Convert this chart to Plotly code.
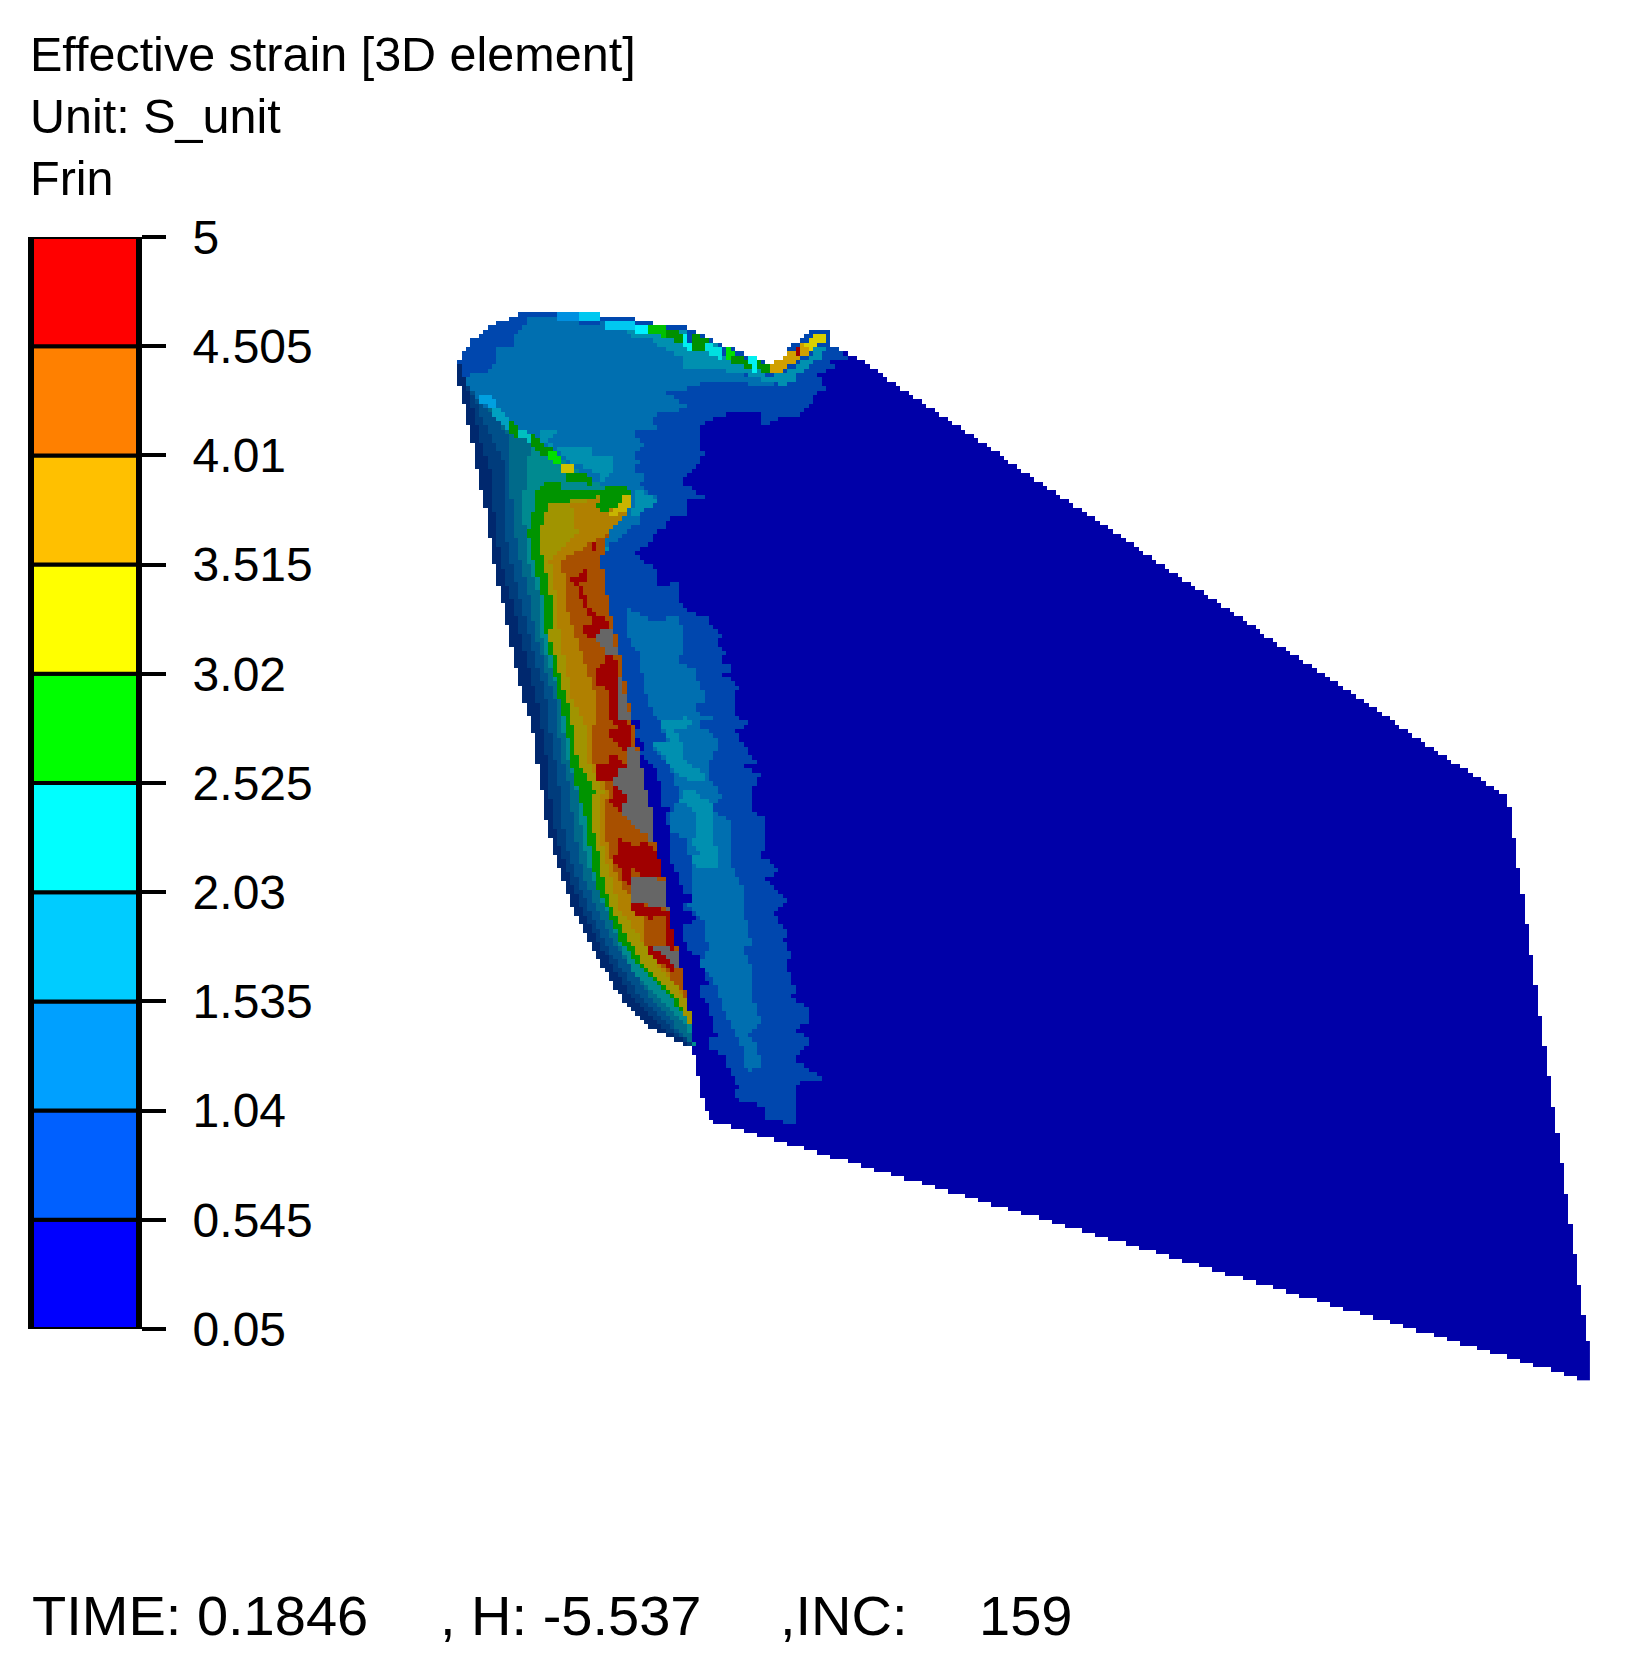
import numpy as np
import plotly.graph_objects as go

level_edges = [0.05, 0.545, 1.04, 1.535, 2.03, 2.525, 3.02, 3.515, 4.01, 4.505, 5]
level_labels = ['0.05', '0.545', '1.04', '1.535', '2.03', '2.525', '3.02', '3.515', '4.01', '4.505', '5']
level_colors = ['#0000FF', '#0060FF', '#00A0FF', '#00CCFF', '#00FFFF',
                '#00FF00', '#FFFF00', '#FFC000', '#FF8000', '#FF0000']

# mesh outline and contour regions (axes run in image pixels)
plate = [(814, 329), (829, 329), (831, 345), (843, 350), (857, 358), (1450, 760), (1494, 787), (1507, 797),
         (1511, 815), (1590, 1358), (1590, 1380), (1586, 1380), (712, 1121), (704, 1103), (699, 1082),
         (695, 1060), (690, 1040), (640, 800), (598, 548), (640, 500), (700, 400), (773, 375), (787, 350)]

band_1 = [(458, 363), (463, 353), (471, 341), (488, 327), (511, 318), (519, 314), (598, 314), (633, 318), (651, 323),
          (686, 327), (705, 336), (723, 345), (757, 358), (769, 363), (773, 375), (787, 350), (814, 329), (829, 329),
          (831, 345), (843, 350), (848, 358), (830, 363), (835, 368), (818, 375), (827, 390), (817, 393), (813, 402),
          (805, 407), (800, 415), (778, 419), (762, 428), (761, 412), (740, 411), (722, 415), (703, 425), (699, 437),
          (703, 453), (699, 463), (690, 473), (682, 482), (703, 497), (686, 500), (686, 515), (664, 520), (664, 528),
          (655, 533), (650, 542), (633, 555), (647, 563), (655, 568), (657, 585), (677, 583), (677, 603), (703, 617),
          (712, 620), (708, 625), (722, 633), (717, 647), (725, 650), (722, 665), (738, 667), (722, 673), (738, 687),
          (733, 710), (743, 720), (747, 723), (735, 732), (748, 750), (757, 763), (740, 767), (760, 772), (756, 783),
          (752, 793), (752, 810), (765, 818), (765, 845), (762, 857), (782, 872), (762, 877), (778, 890), (787, 903),
          (773, 913), (787, 930), (783, 940), (792, 953), (787, 967), (795, 987), (792, 997), (808, 1007), (808, 1022),
          (797, 1030), (808, 1040), (808, 1045), (792, 1058), (822, 1078), (800, 1082), (795, 1093), (795, 1122),
          (782, 1125), (782, 1122), (765, 1117), (765, 1108), (752, 1103), (734, 1098), (739, 1087), (734, 1077),
          (725, 1065), (725, 1055), (708, 1048), (708, 1038), (717, 1037), (712, 1017), (708, 1005), (699, 997),
          (699, 990), (708, 982), (703, 970), (699, 957), (687, 948), (682, 928), (695, 918), (687, 910), (677, 907),
          (695, 900), (682, 890), (677, 873), (668, 857), (668, 823), (664, 815), (673, 810), (660, 807), (660, 783),
          (655, 767), (638, 750), (647, 747), (633, 732), (642, 725), (628, 717), (628, 700), (600, 600), (590, 540),
          (470, 400), (458, 370)]

band_2_top = [(472, 372), (488, 372), (497, 362), (497, 345), (515, 345), (515, 335), (523, 330), (528, 318), (555, 318),
              (560, 323), (577, 323), (580, 327), (603, 323), (625, 327), (650, 336), (682, 358), (682, 367), (722, 370),
              (762, 380), (783, 388), (713, 380), (690, 388), (663, 393), (677, 398), (677, 406), (690, 403), (677, 411),
              (653, 415), (652, 423), (660, 427), (629, 433), (646, 445), (633, 455), (638, 463), (635, 470), (650, 477),
              (637, 483), (660, 500), (643, 507), (637, 513), (642, 520), (625, 533), (610, 545), (598, 548), (478, 400),
              (465, 385)]

band_2_low = [(629, 608), (638, 612), (652, 620), (677, 617), (682, 630), (682, 653), (677, 663), (693, 668), (703, 690),
              (708, 700), (693, 703), (700, 715), (712, 718), (698, 723), (717, 740), (717, 752), (712, 753), (707, 778),
              (725, 798), (713, 803), (713, 810), (730, 820), (730, 863), (743, 890), (743, 903), (747, 927), (752, 945),
              (743, 947), (752, 965), (752, 997), (757, 1010), (761, 1023), (747, 1033), (757, 1047), (761, 1067),
              (748, 1072), (743, 1063), (742, 1047), (730, 1025), (722, 1005), (712, 977), (700, 963), (708, 948),
              (703, 920), (687, 907), (693, 897), (692, 870), (690, 857), (687, 837), (668, 833), (668, 823), (673, 810),
              (680, 797), (670, 767), (650, 747), (665, 740), (660, 722), (650, 708), (647, 700), (638, 653), (625, 633),
              (625, 617)]

band_3 = [
    [(653, 332), (685, 327), (687, 345), (717, 343), (727, 358), (760, 370), (768, 376), (778, 375), (793, 367), (810, 357),
     (817, 345), (830, 345), (823, 355), (810, 367), (795, 375), (795, 380), (783, 388), (773, 380), (762, 380), (752, 376),
     (722, 370), (682, 367), (682, 358), (650, 340), (625, 335), (625, 327)],
    [(540, 428), (555, 428), (555, 433), (550, 440), (555, 447), (590, 447), (590, 455), (615, 455), (612, 473), (603, 482),
     (597, 473), (573, 463), (557, 450), (537, 440)],
    [(600, 545), (612, 545), (610, 550), (600, 550)],
    [(620, 530), (633, 517), (640, 513), (658, 500), (638, 490), (635, 500), (630, 518)],
    [(660, 722), (685, 718), (693, 725), (670, 732), (680, 735), (682, 752), (687, 762), (710, 778), (693, 782), (680, 775),
     (670, 767), (663, 753), (652, 745), (668, 740)],
    [(682, 793), (693, 788), (712, 805), (712, 832), (717, 850), (717, 870), (693, 865), (690, 857), (702, 855), (690, 842),
     (697, 832), (695, 813), (680, 800)],
]

# curved side of the cup: one x per row for each contour
wedge_rows = [365, 380, 400, 420, 440, 467, 488, 492, 505, 533, 560, 600, 640, 700, 730, 760, 790, 820, 850, 880, 910, 940, 970, 1000, 1025, 1047]
wedge_outer = [458, 458, 463, 467, 472, 476, 481, 482, 485, 489, 493, 502, 510, 523, 533, 537, 542, 546, 554, 563, 574, 588, 605, 623, 647, 688]
wedge_fold = [460, 465, 478, 502, 530, 573, 605, 620, 633, 608, 601, 608, 617, 628, 634, 640, 646, 652, 656, 664, 668, 675, 681, 688, 691, 695]
side_1 = [460, 465, 470, 475, 480, 490, 492, 492, 493, 497, 500, 512, 522, 537, 542, 547, 550, 552, 560, 570, 583, 597, 615, 633, 658, 695]
side_2 = [460, 465, 476, 483, 492, 506, 505, 504, 503, 506, 510, 520, 530, 547, 550, 555, 560, 562, 568, 577, 590, 603, 622, 643, 668, 695]
side_3 = [460, 465, 478, 498, 510, 510, 510, 511, 512, 515, 520, 530, 537, 555, 558, 563, 570, 573, 578, 585, 598, 612, 632, 652, 675, 695]
side_4 = [460, 465, 478, 502, 530, 528, 525, 524, 523, 525, 528, 540, 542, 560, 563, 568, 577, 580, 585, 593, 607, 618, 633, 662, 687, 695]
side_g = [460, 465, 478, 502, 530, 573, 605, 536, 535, 528, 533, 543, 547, 560, 567, 570, 578, 586, 590, 595, 608, 620, 642, 672, 691, 695]
side_y = [460, 465, 478, 502, 530, 573, 605, 620, 550, 538, 543, 552, 550, 567, 573, 577, 595, 590, 598, 603, 613, 628, 647, 677, 691, 695]
side_o = [460, 465, 478, 502, 530, 573, 605, 620, 572, 577, 550, 557, 560, 573, 587, 587, 603, 600, 603, 612, 620, 642, 662, 688, 691, 695]
side_b = [460, 465, 478, 502, 530, 573, 605, 620, 633, 608, 563, 565, 577, 597, 593, 593, 608, 605, 608, 618, 643, 643, 665, 688, 691, 695]

side_colors = ['#003C7C', '#00508A', '#006A8A', '#008A90', '#009400', '#A09400', '#B08000', '#A85000']
side_edges = [side_1, side_2, side_3, side_4, side_g, side_y, side_o, side_b]

red_patches = [
    [(590, 543), (598, 543), (598, 560), (594, 560), (594, 550), (590, 548)],
    [(582, 568), (589, 573), (589, 582), (580, 583), (585, 595), (588, 605), (597, 615), (610, 622), (612, 630), (597, 640),
     (585, 635), (585, 627), (593, 620), (582, 602), (576, 582), (572, 582), (572, 577), (580, 577)],
    [(603, 657), (615, 657), (620, 678), (625, 695), (620, 697), (620, 718), (607, 718), (607, 690), (594, 682), (594, 670), (603, 665)],
    [(607, 700), (620, 700), (620, 718), (625, 718), (633, 728), (633, 748), (623, 752), (612, 737), (607, 733), (617, 727), (607, 717)],
    [(607, 753), (623, 760), (628, 768), (620, 770), (612, 780), (598, 783), (598, 765), (607, 763)],
    [(612, 787), (623, 788), (628, 797), (625, 815), (620, 813), (607, 800), (617, 795)],
    [(620, 837), (633, 847), (647, 842), (655, 850), (660, 860), (660, 875), (647, 880), (633, 870), (633, 890), (625, 883), (620, 867), (612, 858), (620, 855)],
    [(633, 903), (660, 907), (668, 912), (673, 933), (673, 950), (664, 950), (664, 917), (647, 918), (633, 912)],
    [(647, 947), (655, 947), (673, 965), (673, 972), (660, 963), (647, 953)],
]
grey_patches = [
    [(603, 630), (612, 630), (616, 647), (616, 657), (603, 655), (603, 647), (598, 643), (598, 635)],
    [(616, 657), (620, 657), (620, 678), (625, 695), (630, 720), (620, 720), (620, 697)],
    [(620, 700), (628, 700), (628, 717), (620, 717)],
    [(625, 748), (637, 748), (642, 770), (647, 793), (652, 815), (655, 847), (648, 837), (637, 827), (623, 815), (625, 797), (612, 780), (620, 770), (630, 770), (625, 757)],
    [(633, 875), (664, 880), (668, 910), (660, 907), (630, 902), (630, 890), (633, 890)],
    [(647, 945), (664, 947), (677, 950), (677, 967), (664, 953)],
]

green_bits = [[(603, 487), (625, 486), (632, 491), (625, 500), (620, 510), (600, 500)],
              [(600, 497), (617, 497), (620, 507), (607, 510), (603, 513), (598, 505)],
              [(535, 492), (548, 480), (560, 480), (562, 492)]]
yellow_bits = [(625, 495), (633, 495), (633, 507), (627, 508), (617, 515), (608, 517)]
notch_bits = [(769, 367), (773, 375), (788, 367), (802, 358), (808, 355), (813, 345), (818, 337), (827, 332), (818, 332), (805, 342), (793, 350), (778, 360)]
notch_yellow = [(805, 342), (813, 338), (818, 334), (827, 331), (827, 338), (818, 346), (810, 352)]
notch_red = [(795, 350), (802, 346), (802, 352), (797, 355)]

rim_segments = [
    ('#0090E0', [559, 580], [316, 316]), ('#00C8F0', [580, 598], [316, 316]), ('#00C8F0', [605, 633], [322, 322]),
    ('#00F0FF', [638, 650], [326, 326]), ('#00C000', [652, 668], [329, 330]), ('#009000', [668, 682], [333, 335]),
    ('#009000', [692, 705], [337, 340]), ('#00F0F0', [686, 688], [338, 345]), ('#009000', [692, 706], [345, 343]),
    ('#00E0E0', [705, 720], [345, 352]), ('#00E000', [727, 735], [350, 358]), ('#009000', [735, 753], [358, 362]),
    ('#00F0F0', [752, 755], [358, 365]), ('#009000', [757, 768], [362, 368]),
    ('#00A0E0', [482, 492], [395, 400]), ('#00A0C0', [495, 510], [408, 425]), ('#009000', [510, 515], [425, 430]),
    ('#00C0C0', [520, 530], [430, 436]), ('#009000', [533, 550], [438, 452]), ('#00E000', [552, 558], [454, 458]),
    ('#D0C000', [563, 573], [465, 467]), ('#009000', [567, 590], [473, 478]),
]

header_lines = [('Effective strain [3D element]', 28, 54), ('Unit: S_unit', 28, 116), ('Frin', 28, 178)]
footer_items = [('TIME: 0.1846', 30), (', H: -5.537', 438), (',INC:', 778), ('159', 977)]

# the mesh was photographed as a coarse bitmap, so paint regions onto cells of that size
cell = 4.34
grid_x = np.arange(1590 - cell / 2, 440, -cell)[::-1]
grid_y = np.arange(1380 - cell / 2, 300, -cell)[::-1]
X, Y = np.meshgrid(grid_x, grid_y)
z = np.full(X.shape, np.nan)
palette = []


def color_id(color):
    if color not in palette:
        palette.append(color)
    return palette.index(color)


def paint(points, color):
    inside = np.zeros(X.shape, dtype=bool)
    for (x1, y1), (x2, y2) in zip(points, points[1:] + points[:1]):
        if y1 == y2:
            continue
        crossing = (y1 > Y) != (y2 > Y)
        inside ^= crossing & (X < x1 + (Y - y1) * (x2 - x1) / (y2 - y1))
    z[inside] = color_id(color)


paint(plate, '#0000A8')
paint(band_1, '#0047AE')
paint(band_2_top, '#006FB0')
paint(band_2_low, '#006FB0')
for pts in band_3:
    paint(pts, '#0090B0')

paint(list(zip(wedge_outer + wedge_fold[::-1], wedge_rows + wedge_rows[::-1])), '#00286E')
for edge, col in zip(side_edges, side_colors):
    paint(list(zip(edge + wedge_fold[::-1], wedge_rows + wedge_rows[::-1])), col)
for pts in red_patches:
    paint(pts, '#A00000')
for pts in grey_patches:
    paint(pts, '#666666')

for pts in green_bits:
    paint(pts, '#009400')
paint(yellow_bits, '#C8B400')
paint(notch_bits, '#D0A000')
paint(notch_yellow, '#D8D000')
paint(notch_red, '#A00000')

# rim strips are about two bitmap cells tall
for col, xs, ys in rim_segments:
    for t in np.linspace(0, 1, 12):
        i = np.abs(grid_y - (ys[0] + t * (ys[1] - ys[0]))).argmin()
        j = np.abs(grid_x - (xs[0] + t * (xs[1] - xs[0]))).argmin()
        z[i:i + 2, j] = color_id(col)

n = len(palette)
scale = []
for i, c in enumerate(palette):
    scale += [[i / n, c], [(i + 1) / n, c]]

fig = go.Figure()
fig.add_trace(go.Heatmap(x=grid_x, y=grid_y, z=z + 0.5, zmin=0, zmax=n, colorscale=scale, showscale=False,
                         hoverinfo='skip', zsmooth=False))

# legend bar on its own axes so the ticks come from the axis
fig.add_trace(go.Bar(x=[0] * len(level_colors), y=[level_edges[i + 1] - level_edges[i] for i in range(len(level_colors))],
                     base=level_edges[:-1], width=1, marker=dict(color=level_colors, line=dict(color='black', width=4)),
                     xaxis='x2', yaxis='y2', cliponaxis=False, hoverinfo='skip', showlegend=False))

for text, x, y in header_lines:
    fig.add_annotation(x=x, y=y, text=text, xanchor='left', yanchor='middle', showarrow=False,
                       font=dict(family='Liberation Sans', size=48.5, color='black'))
for text, x in footer_items:
    fig.add_annotation(x=x, y=1615, text=text, xanchor='left', yanchor='middle', showarrow=False,
                       font=dict(family='Liberation Sans', size=56, color='black'))

fig.update_layout(
    width=1626, height=1667, margin=dict(l=0, r=0, t=0, b=0),
    paper_bgcolor='white', plot_bgcolor='white', barmode='overlay',
    xaxis=dict(range=[0, 1626], visible=False, domain=[0, 1], automargin=False),
    yaxis=dict(range=[1667, 0], visible=False, domain=[0, 1], automargin=False),
    xaxis2=dict(domain=[32 / 1626, 138 / 1626], range=[-0.5, 0.5], visible=False, anchor='y2', automargin=False),
    yaxis2=dict(domain=[1 - 1329 / 1667, 1 - 237 / 1667], range=[0.05, 5], anchor='x2', side='right', automargin=False,
                tickmode='array', tickvals=level_edges, ticktext=level_labels, ticks='outside', ticklen=24,
                tickwidth=4, tickcolor='black', showgrid=False, zeroline=False, showline=True, linecolor='black',
                linewidth=4, mirror=True, ticklabelstandoff=17, tickfont=dict(family='Liberation Sans', size=48, color='black')),
)

fig.write_html("out.html", config={'displayModeBar': False}, post_script="document.body.style.margin='0';")
